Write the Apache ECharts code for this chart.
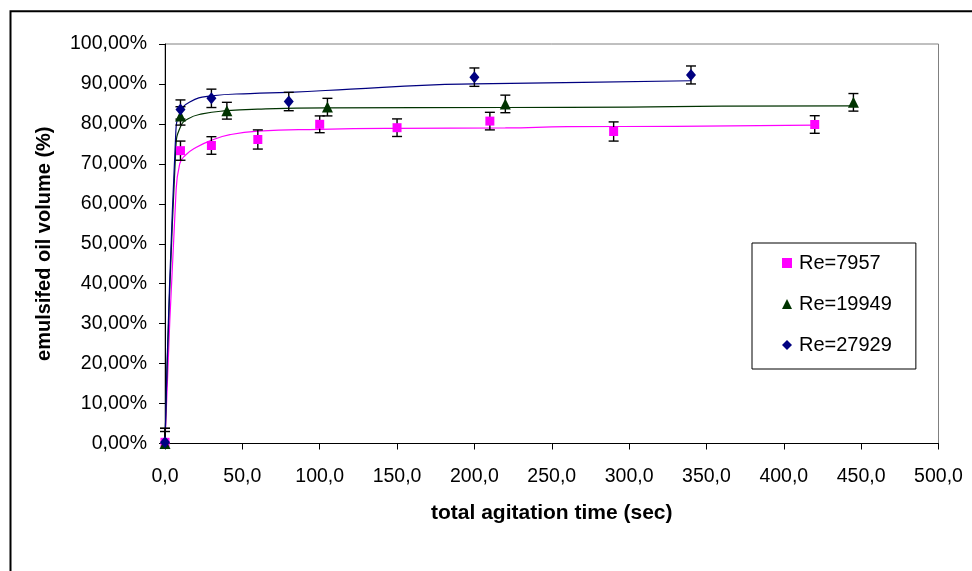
<!DOCTYPE html>
<html>
<head>
<meta charset="utf-8">
<script src="https://cdn.jsdelivr.net/npm/echarts@6/dist/echarts.min.js"></script>
<style>
  html, body { margin: 0; padding: 0; background: #fff; }
  #chart { width: 972px; height: 571px; }
</style>
</head>
<body>
<div id="chart"></div>
<script>
// Emulsified oil volume (%) against total agitation time (s), three Reynolds numbers

// Re = 7957
const timeRe7957 = [0, 10, 30, 60, 100, 150, 210, 290, 420];
const volRe7957  = [0.3, 73.3, 74.6, 76.1, 79.9, 79.05, 80.7, 78.1, 79.85];
const errRe7957  = [3.5, 2.4, 2.2, 2.4, 2.1, 2.2, 2.2, 2.4, 2.2];

// Re = 19949
const timeRe19949 = [0, 10, 40, 105, 220, 445];
const volRe19949  = [0, 82.0, 83.3, 84.2, 85.0, 85.4];
const errRe19949  = [3.0, 2.3, 2.1, 2.2, 2.2, 2.2];

// Re = 27929
const timeRe27929 = [0, 10, 30, 80, 200, 340];
const volRe27929  = [0.3, 83.6, 86.4, 85.6, 91.7, 92.25];
const errRe27929  = [3.5, 2.4, 2.3, 2.3, 2.3, 2.25];

// fitted trend curves
const trendTimeRe7957 = [0, 7, 9.5, 13, 20, 30, 42, 60, 100, 150, 220, 260, 330, 420];
const trendRe7957     = [0, 62, 70, 72.1, 74.1, 75.9, 77.3, 78.2, 78.65, 78.9, 79.0, 79.3, 79.4, 79.7];
const trendTimeRe19949 = [0, 7, 10, 15, 24, 40, 60, 105, 220, 300, 360, 445];
const trendRe19949     = [0, 74, 79.3, 81.3, 82.5, 83.3, 83.7, 84.0, 84.1, 84.2, 84.45, 84.5];
const trendTimeRe27929 = [0, 7, 10, 16, 30, 55, 80, 120, 170, 200, 270, 340];
const trendRe27929     = [0, 78, 82.8, 85.5, 87, 87.6, 87.9, 88.7, 89.7, 90.0, 90.4, 90.8];

const seriesNames = ['Re=7957', 'Re=19949', 'Re=27929'];
const xAxisTitle = 'total agitation time (sec)';
const yAxisTitle = 'emulsifed oil volume (%)';

const FONT = '"Liberation Sans", Arial, Helvetica, sans-serif';
const PINK = '#FF00FF', GREEN = '#003300', BLUE = '#000080';

const zip = (a, b) => a.map((v, i) => [v, b[i]]);

function trendSeries(times, vals, color) {
  return {
    type: 'line',
    data: zip(times, vals),
    showSymbol: false,
    smooth: 0.5,
    silent: true,
    z: 2,
    lineStyle: { color: color, width: 1.2 },
    emphasis: { disabled: true }
  };
}

function errorSeries(times, vals, errs) {
  return {
    type: 'custom',
    silent: true,
    z: 3,
    data: times.map((t, i) => [t, vals[i] - errs[i], vals[i] + errs[i]]),
    encode: { x: 0, y: [1, 2] },
    renderItem: function (params, api) {
      const t = api.value(0), lo = api.value(1), hi = api.value(2);
      const top = api.coord([t, hi]);
      const bot = api.coord([t, Math.max(lo, 0)]);
      const hw = 5;
      const st = { stroke: '#000', lineWidth: 1.4 };
      const children = [
        { type: 'line', shape: { x1: top[0], y1: top[1], x2: bot[0], y2: bot[1] }, style: st },
        { type: 'line', shape: { x1: top[0] - hw, y1: top[1], x2: top[0] + hw, y2: top[1] }, style: st }
      ];
      if (lo >= 0) {
        children.push({ type: 'line', shape: { x1: bot[0] - hw, y1: bot[1], x2: bot[0] + hw, y2: bot[1] }, style: st });
      }
      return { type: 'group', children: children };
    }
  };
}

function pointSeries(name, times, vals, symbol, size, color) {
  return {
    type: 'scatter',
    name: name,
    data: zip(times, vals),
    symbol: symbol,
    symbolSize: size,
    z: 4,
    itemStyle: { color: color, opacity: 1 },
    emphasis: { disabled: true }
  };
}

const chart = echarts.init(document.getElementById('chart'), null, { renderer: 'canvas' });

chart.setOption({
  animation: false,
  backgroundColor: '#fff',
  textStyle: { fontFamily: FONT },
  graphic: [{
    type: 'rect',
    shape: { x: 10.5, y: 11.3, width: 1000, height: 600 },
    style: { fill: 'none', stroke: '#000', lineWidth: 2 },
    silent: true,
    z: -10
  }],
  grid: {
    left: 165, right: 33.5, top: 44, bottom: 127.5,
    show: true, borderColor: '#808080', borderWidth: 1,
    containLabel: false, outerBoundsMode: 'none'
  },
  legend: {
    data: seriesNames,
    orient: 'vertical',
    left: 752, top: 243,
    padding: [10, 24, 14, 30],
    itemGap: 21,
    itemWidth: 10, itemHeight: 10,
    selectedMode: false,
    backgroundColor: '#fff',
    borderColor: '#000', borderWidth: 1,
    textStyle: { fontFamily: FONT, fontSize: 20, color: '#000', lineHeight: 20, padding: [0, 0, 0, 2] }
  },
  xAxis: {
    type: 'value', min: 0, max: 500, interval: 50,
    axisLine: { show: true, onZero: false, lineStyle: { color: '#000', width: 1 } },
    axisTick: { show: true, length: 6, lineStyle: { color: '#000' } },
    splitLine: { show: false },
    axisLabel: {
      margin: 23, fontSize: 19.5, color: '#000', fontFamily: FONT,
      formatter: v => v.toFixed(1).replace('.', ',')
    },
    name: xAxisTitle, nameLocation: 'middle', nameGap: 59,
    nameTextStyle: { fontSize: 21, fontWeight: 'bold', color: '#000', fontFamily: FONT }
  },
  yAxis: {
    type: 'value', min: 0, max: 100, interval: 10,
    axisLine: { show: true, onZero: false, lineStyle: { color: '#000', width: 1 } },
    axisTick: { show: true, length: 6, lineStyle: { color: '#000' } },
    splitLine: { show: false },
    axisLabel: {
      margin: 18, fontSize: 19.5, color: '#000', fontFamily: FONT,
      formatter: v => v.toFixed(2).replace('.', ',') + '%'
    },
    name: yAxisTitle, nameLocation: 'middle', nameGap: 111,
    nameTextStyle: { fontSize: 20, fontWeight: 'bold', color: '#000', fontFamily: FONT }
  },
  series: [
    trendSeries(trendTimeRe7957, trendRe7957, PINK),
    trendSeries(trendTimeRe19949, trendRe19949, GREEN),
    trendSeries(trendTimeRe27929, trendRe27929, BLUE),
    errorSeries(timeRe7957, volRe7957, errRe7957),
    errorSeries(timeRe19949, volRe19949, errRe19949),
    errorSeries(timeRe27929, volRe27929, errRe27929),
    pointSeries(seriesNames[0], timeRe7957, volRe7957, 'rect', 9, PINK),
    pointSeries(seriesNames[1], timeRe19949, volRe19949, 'triangle', 11, GREEN),
    pointSeries(seriesNames[2], timeRe27929, volRe27929, 'diamond', [10, 12], BLUE)
  ]
});
</script>
</body>
</html>
